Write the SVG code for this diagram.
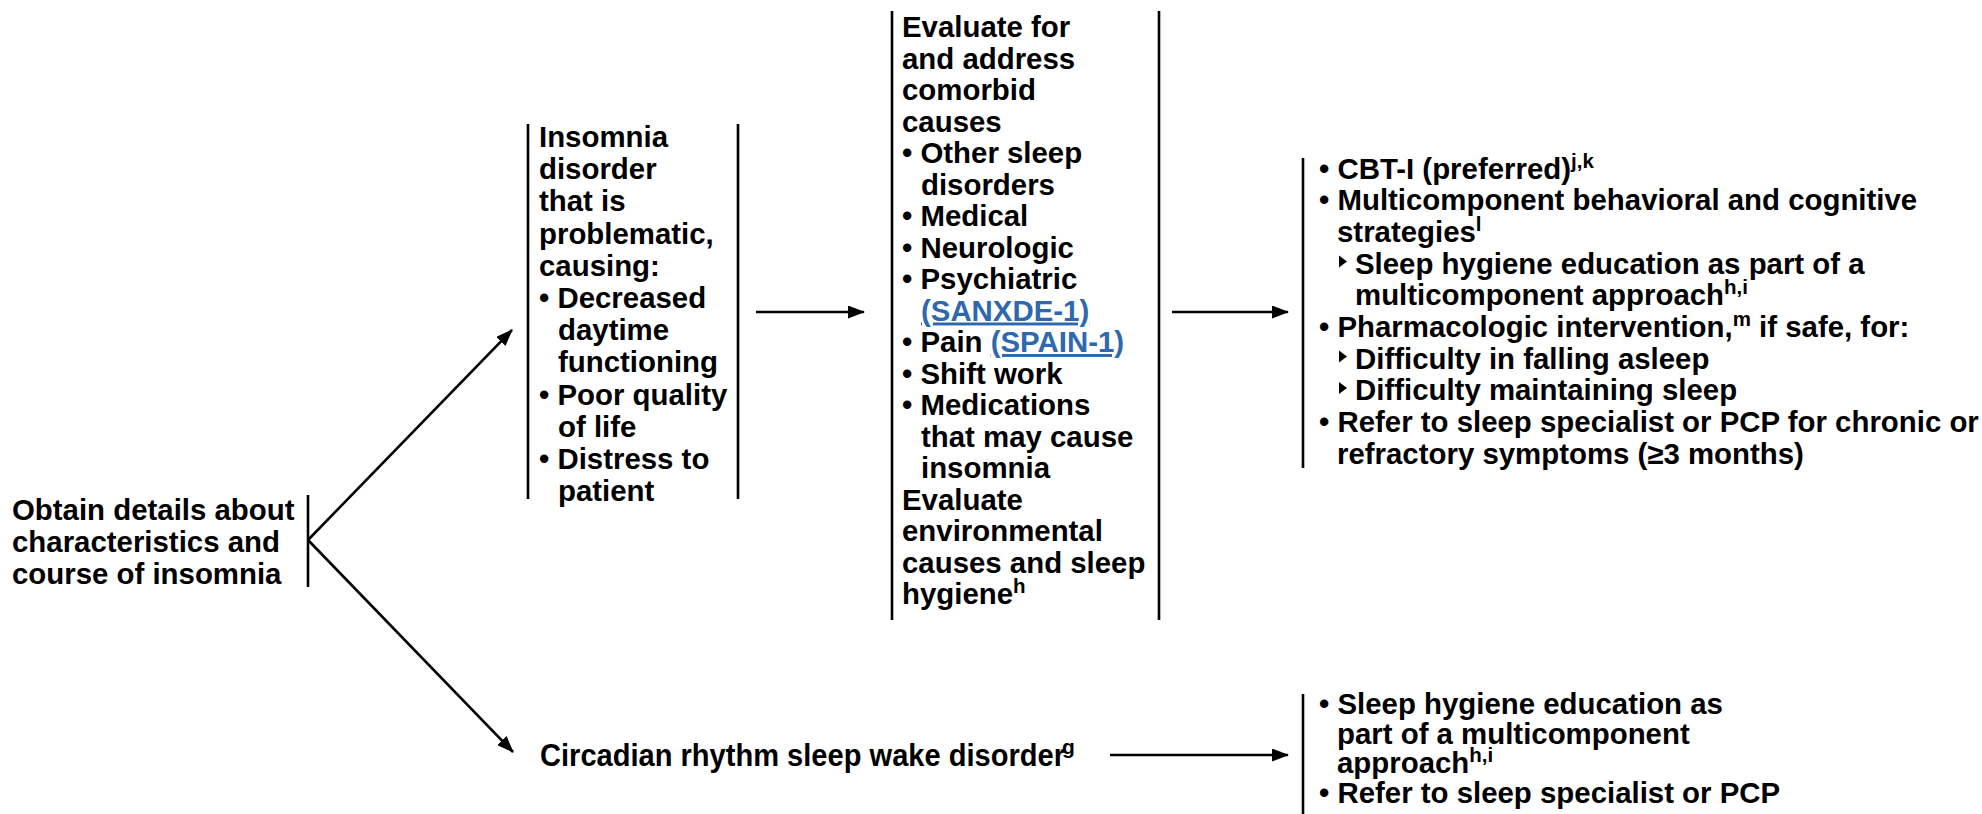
<svg xmlns="http://www.w3.org/2000/svg" width="1982" height="814" viewBox="0 0 1982 814">
  <defs>
    <style>
      .t { font-family: "Liberation Sans", Arial, Helvetica, sans-serif; font-weight: bold; font-size: 29.4px; fill: #000; }
      .sup { font-size: 20.5px; }
      .lnk { fill: #2E68AE; text-decoration: underline; }
      .bar { stroke: #000; stroke-width: 2.6; fill: none; }
      .arr { stroke: #000; stroke-width: 2.6; fill: none; marker-end: url(#ah); }
      .tri { fill: #000; }
    </style>
    <marker id="ah" viewBox="0 0 17 13" refX="16" refY="6.5" markerWidth="17" markerHeight="13" markerUnits="userSpaceOnUse" orient="auto">
      <path d="M0,0 L17,6.5 L0,13 z" fill="#000"/>
    </marker>
    <!-- sub-bullet marker, anchored on the text baseline -->
    <path id="subm" d="M0,-18 L8,-12 L0,-6 z"/>
  </defs>
  <rect width="1982" height="814" fill="#fff"/>

  <!-- connectors -->
  <g id="connectors">
    <line class="bar" x1="308" y1="495" x2="308" y2="587"/>
    <line class="arr" x1="308" y1="540" x2="512" y2="330"/>
    <line class="arr" x1="308" y1="540" x2="513" y2="752"/>
    <line class="arr" x1="756" y1="312" x2="864" y2="312"/>
    <line class="arr" x1="1172" y1="312" x2="1288" y2="312"/>
    <line class="arr" x1="1110" y1="755" x2="1288" y2="755"/>
  </g>

  <!-- starting point -->
  <g id="node-obtain" class="t">
    <text x="12" y="520">Obtain details about</text>
    <text x="12" y="552">characteristics and</text>
    <text x="12" y="584">course of insomnia</text>
  </g>

  <!-- insomnia disorder -->
  <g id="node-insomnia">
    <line class="bar" x1="528" y1="124" x2="528" y2="499"/>
    <line class="bar" x1="738" y1="124" x2="738" y2="499"/>
    <g class="t">
      <text x="539" y="147">Insomnia</text>
      <text x="539" y="179.2">disorder</text>
      <text x="539" y="211.4">that is</text>
      <text x="539" y="243.6">problematic,</text>
      <text x="539" y="275.8">causing:</text>
      <text x="539" y="308">• Decreased</text>
      <text x="558" y="340.2">daytime</text>
      <text x="558" y="372.4">functioning</text>
      <text x="539" y="404.6">• Poor quality</text>
      <text x="558" y="436.8">of life</text>
      <text x="539" y="469">• Distress to</text>
      <text x="558" y="501">patient</text>
    </g>
  </g>

  <!-- comorbid causes -->
  <g id="node-evaluate">
    <line class="bar" x1="892" y1="11" x2="892" y2="620"/>
    <line class="bar" x1="1159" y1="11" x2="1159" y2="620"/>
    <g class="t">
      <text x="902" y="37">Evaluate for</text>
      <text x="902" y="68.5">and address</text>
      <text x="902" y="100">comorbid</text>
      <text x="902" y="131.5">causes</text>
      <text x="902" y="163">• Other sleep</text>
      <text x="921" y="194.5">disorders</text>
      <text x="902" y="226">• Medical</text>
      <text x="902" y="257.5">• Neurologic</text>
      <text x="902" y="289">• Psychiatric</text>
      <text x="921" y="320.5" class="lnk">(SANXDE-1)</text>
      <text x="902" y="352">• Pain <tspan class="lnk">(SPAIN-1)</tspan></text>
      <text x="902" y="383.5">• Shift work</text>
      <text x="902" y="415">• Medications</text>
      <text x="921" y="446.5">that may cause</text>
      <text x="921" y="478">insomnia</text>
      <text x="902" y="509.5">Evaluate</text>
      <text x="902" y="541">environmental</text>
      <text x="902" y="572.5">causes and sleep</text>
      <text x="902" y="604">hygiene<tspan class="sup" dy="-11">h</tspan></text>
    </g>
  </g>

  <!-- treatment -->
  <g id="node-treatment">
    <line class="bar" x1="1303" y1="158" x2="1303" y2="468"/>
    <g class="tri">
      <use href="#subm" x="1339" y="273.5"/>
      <use href="#subm" x="1339" y="368.5"/>
      <use href="#subm" x="1339" y="400"/>
    </g>
    <g class="t">
      <text x="1319" y="178.5">• CBT-I (preferred)<tspan class="sup" dy="-11">j,k</tspan></text>
      <text x="1319" y="210.2">• Multicomponent behavioral and cognitive</text>
      <text x="1337" y="241.9">strategies<tspan class="sup" dy="-11">l</tspan></text>
      <text x="1355" y="273.6">Sleep hygiene education as part of a</text>
      <text x="1355" y="305.3">multicomponent approach<tspan class="sup" dy="-11">h,i</tspan></text>
      <text x="1319" y="337">• Pharmacologic intervention,<tspan class="sup" dy="-11">m</tspan><tspan dy="11"> if safe, for:</tspan></text>
      <text x="1355" y="368.7">Difficulty in falling asleep</text>
      <text x="1355" y="400.4">Difficulty maintaining sleep</text>
      <text x="1319" y="432.1">• Refer to sleep specialist or PCP for chronic or</text>
      <text x="1337" y="463.8">refractory symptoms (≥3 months)</text>
    </g>
  </g>

  <!-- circadian rhythm branch (narrow lettering) -->
  <g id="node-circadian" class="t">
    <text x="540" y="766" style="font-size:32px" textLength="525" lengthAdjust="spacingAndGlyphs">Circadian rhythm sleep wake disorder</text>
    <text x="1062" y="754" class="sup" style="font-size:21px">g</text>
  </g>

  <g id="node-circadian-treatment">
    <line class="bar" x1="1303" y1="694" x2="1303" y2="814"/>
    <g class="t">
      <text x="1319" y="714">• Sleep hygiene education as</text>
      <text x="1337" y="743.5">part of a multicomponent</text>
      <text x="1337" y="773">approach<tspan class="sup" dy="-11">h,i</tspan></text>
      <text x="1319" y="802.5">• Refer to sleep specialist or PCP</text>
    </g>
  </g>
</svg>
